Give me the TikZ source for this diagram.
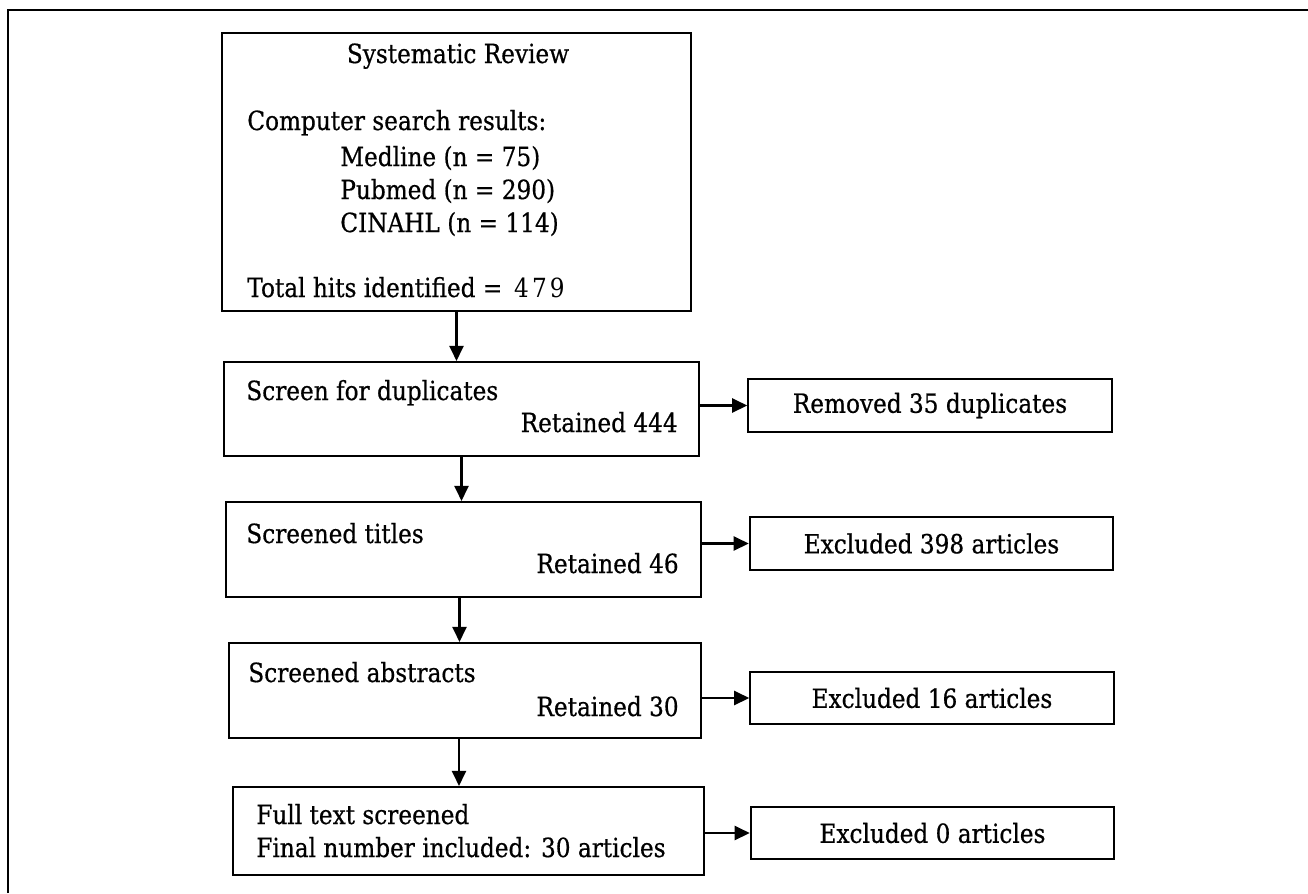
\documentclass[tikz,border=0pt]{standalone}
\usepackage{fontspec}
\setmainfont{DejaVu Serif}[FakeStretch=0.88, FakeBold=0.6]
\usetikzlibrary{arrows.meta, positioning, calc}

\begin{document}
\begin{tikzpicture}[x=0.02cm, y=-0.02cm, >={Triangle[length=0.3cm, width=0.28cm]},
    etape/.style={rectangle, draw, line width=1.2pt, inner sep=0pt},
    cote/.style={etape, minimum width=7.27cm, minimum height=1.05cm},
    txt/.style={inner sep=0pt, font=\fontsize{15}{18}\selectfont},
    fleche/.style={->, line width=1.2pt}]
  \useasboundingbox (0,0) rectangle (1308,893);
  \draw[line width=1.2pt] (8,893) -- (8,10) -- (1308,10);

  % boxes on the main line
  \node[etape, minimum width=9.38cm, minimum height=5.56cm] (revue) at (456.5,172) {};
  \node[etape, minimum width=9.5cm, minimum height=1.88cm] (doublons) at (461.5,409) {};
  \node[etape, minimum width=9.5cm, minimum height=1.9cm] (titres) at (463.5,549.5) {};
  \node[etape, minimum width=9.44cm, minimum height=1.9cm] (resumes) at (465,690.5) {};
  \node[etape, minimum width=9.42cm, minimum height=1.76cm] (complet) at (468.5,831) {};

  % boxes on the right
  \node[cote] (retires) at (930,405.5) {};
  \node[cote] (exclus1) at (931.5,543.5) {};
  \node[cote] (exclus2) at (932,698) {};
  \node[cote] (exclus3) at (932.5,833) {};

  % texts
  \node[txt, anchor=base] (titre) at (458,63) {Systematic Review};
  \node[txt, anchor=base west] (recherche) at (247,130) {Computer search results:};
  \node[txt, anchor=base west] (medline) at (340,166) {Medline (n = 75)};
  \node[txt, anchor=base west] (pubmed) at (340,199) {Pubmed (n = 290)};
  \node[txt, anchor=base west] (cinahl) at (340,232) {CINAHL (n = 114)};
  \node[txt, anchor=base west] (total) at (247,297)
    {Total hits identified = \,{\addfontfeature{LetterSpace=12, FakeBold=0}479}};

  \node[txt, anchor=base west] (d1) at (246,400) {Screen for duplicates};
  \node[txt, anchor=base east] (d2) at (678,432) {Retained 444};
  \node[txt, anchor=base west] (t1) at (246,543) {Screened titles};
  \node[txt, anchor=base east] (t2) at (679,573) {Retained 46};
  \node[txt, anchor=base west] (r1) at (248,682) {Screened abstracts};
  \node[txt, anchor=base east] (r2) at (679,716) {Retained 30};
  \node[txt, anchor=base west] (c1) at (256,824) {Full text screened};
  \node[txt, anchor=base west] (c2) at (256,857) {Final number included: 30 articles};

  \node[txt] at (retires) {Removed 35 duplicates};
  \node[txt] at (exclus1) {Excluded 398 articles};
  \node[txt] at (exclus2) {Excluded 16 articles};
  \node[txt] at (exclus3) {Excluded 0 articles};

  % arrows
  \draw[fleche] (revue.south) -- (revue.south |- doublons.north);
  \draw[fleche] (doublons.south) -- (doublons.south |- titres.north);
  \draw[fleche] ($(titres.south)+(-4,0)$) -- ($(titres.south |- resumes.north)+(-4,0)$);
  \draw[fleche] ($(resumes.south)+(-6,0)$) -- ($(resumes.south |- complet.north)+(-6,0)$);

  \draw[fleche] (retires.west -| doublons.east) -- (retires.west);
  \draw[fleche] (exclus1.west -| titres.east) -- (exclus1.west);
  \draw[fleche] (exclus2.west -| resumes.east) -- (exclus2.west);
  \draw[fleche] (exclus3.west -| complet.east) -- (exclus3.west);
\end{tikzpicture}
\end{document}
